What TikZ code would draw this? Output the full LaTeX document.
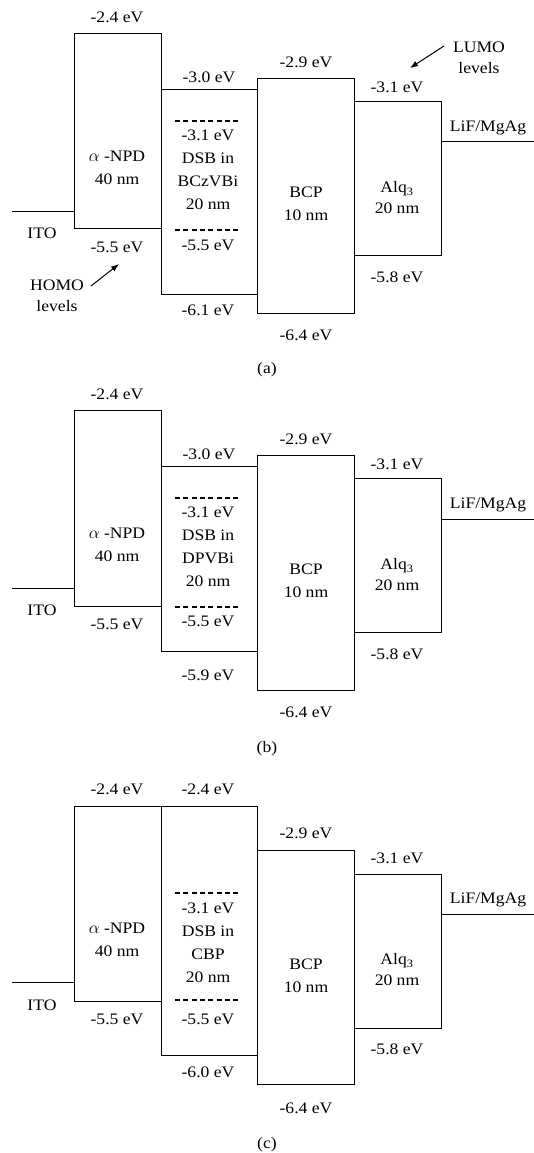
\documentclass[tikz,border=0pt]{standalone}
\usepackage{fontspec}
\setmainfont{Liberation Serif}[FakeStretch=1.1]
\usetikzlibrary{arrows.meta}

\begin{document}
\begin{tikzpicture}[x=1pt, y=-1pt,
    every node/.style={font=\fontsize{16}{23}\selectfont, inner sep=0pt},
    layer/.style={draw, line width=1pt, anchor=north west},
    lbl/.style={anchor=north, align=center},
    lead/.style={line width=1pt},
    dopant/.style={line width=1.3pt, dash pattern=on 5pt off 3.3pt},
    ptr/.style={-{Latex[length=8pt, width=6pt]}, line width=1pt}]
  \useasboundingbox (0,0) rectangle (534,1153);

  % (a) DSB in BCzVBi
  \begin{scope}[shift={(0,33)}]
    \node[layer, minimum width=87, minimum height=195] (npdA) at (74,0) {};
    \node[layer, minimum width=96, minimum height=205] (dsbA) at (161,56) {};
    \node[layer, minimum width=97, minimum height=235] (bcpA) at (257,45) {};
    \node[layer, minimum width=87, minimum height=154] (alqA) at (354,68) {};
    \coordinate (itoA) at (12,178);
    \coordinate (lifA) at (534,108);
    \draw[lead] (itoA) -- (itoA -| npdA.west);
    \draw[lead] (alqA.east |- lifA) -- (lifA);
    \draw[dopant] (175,88) -- (241,88);
    \draw[dopant] (175,197) -- (241,197);
    \node[lbl] (npdTopA) at (117,-21.5) {-2.4 eV};
    \node[lbl] (npdNameA) at (117,117.5) {$\alpha$ -NPD\\40 nm};
    \node[lbl] (npdBotA) at (117,208.5) {-5.5 eV};
    \node[lbl] (itoLblA) at (42,194.5) {ITO};
    \node[lbl] (dsbTopA) at (209,38.5) {-3.0 eV};
    \node[lbl] (dsbNameA) at (208,96.5) {-3.1 eV\\DSB in\\BCzVBi\\20 nm};
    \node[lbl] (dsbHomoA) at (208,206.5) {-5.5 eV};
    \node[lbl] (dsbBotA) at (208,271.5) {-6.1 eV};
    \node[lbl] (bcpTopA) at (306,23.5) {-2.9 eV};
    \node[lbl] (bcpNameA) at (306,153.5) {BCP\\10 nm};
    \node[lbl] (bcpBotA) at (306,296.5) {-6.4 eV};
    \node[lbl] (alqTopA) at (397,48.5) {-3.1 eV};
    \node[lbl, font=\fontsize{16}{21}\selectfont] (alqNameA) at (397,148.5) {Alq\textsubscript{3}\\20 nm};
    \node[lbl] (alqBotA) at (397,238.5) {-5.8 eV};
    \node[lbl] (lifLblA) at (488,87.5) {LiF/MgAg};
    \node[lbl, font=\fontsize{16}{21}\selectfont] (homoLbl) at (57,246.5) {HOMO\\levels};
    \node[lbl, font=\fontsize{16}{21}\selectfont] (lumoLbl) at (479,8.5) {LUMO\\levels};
    \coordinate (homoTail) at (91,253);
    \coordinate (homoTip) at (119,231);
    \coordinate (lumoTail) at (444,13);
    \coordinate (lumoTip) at (410,35);
    \draw[ptr] (homoTail) -- (homoTip);
    \draw[ptr] (lumoTail) -- (lumoTip);
    \node[lbl] (capA) at (267,329.5) {(a)};
  \end{scope}

  % (b) DSB in DPVBi
  \begin{scope}[shift={(0,410)}]
    \node[layer, minimum width=87, minimum height=196] (npdB) at (74,0) {};
    \node[layer, minimum width=96, minimum height=185] (dsbB) at (161,56) {};
    \node[layer, minimum width=97, minimum height=235] (bcpB) at (257,45) {};
    \node[layer, minimum width=87, minimum height=154] (alqB) at (354,68) {};
    \coordinate (itoB) at (12,178);
    \coordinate (lifB) at (534,109);
    \draw[lead] (itoB) -- (itoB -| npdB.west);
    \draw[lead] (alqB.east |- lifB) -- (lifB);
    \draw[dopant] (175,88) -- (241,88);
    \draw[dopant] (175,197) -- (241,197);
    \node[lbl] (npdTopB) at (117,-21.5) {-2.4 eV};
    \node[lbl] (npdNameB) at (117,117.5) {$\alpha$ -NPD\\40 nm};
    \node[lbl] (npdBotB) at (117,208.5) {-5.5 eV};
    \node[lbl] (itoLblB) at (42,194.5) {ITO};
    \node[lbl] (dsbTopB) at (209,38.5) {-3.0 eV};
    \node[lbl] (dsbNameB) at (208,96.5) {-3.1 eV\\DSB in\\DPVBi\\20 nm};
    \node[lbl] (dsbHomoB) at (208,205.5) {-5.5 eV};
    \node[lbl] (dsbBotB) at (208,259.5) {-5.9 eV};
    \node[lbl] (bcpTopB) at (306,23.5) {-2.9 eV};
    \node[lbl] (bcpNameB) at (306,153.5) {BCP\\10 nm};
    \node[lbl] (bcpBotB) at (306,296.5) {-6.4 eV};
    \node[lbl] (alqTopB) at (397,48.5) {-3.1 eV};
    \node[lbl, font=\fontsize{16}{21}\selectfont] (alqNameB) at (397,148.5) {Alq\textsubscript{3}\\20 nm};
    \node[lbl] (alqBotB) at (397,238.5) {-5.8 eV};
    \node[lbl] (lifLblB) at (488,87.5) {LiF/MgAg};
    \node[lbl] (capB) at (267,331.5) {(b)};
  \end{scope}

  % (c) DSB in CBP
  \begin{scope}[shift={(0,806)}]
    \node[layer, minimum width=87, minimum height=195] (npdC) at (74,0) {};
    \node[layer, minimum width=96, minimum height=249] (dsbC) at (161,0) {};
    \node[layer, minimum width=97, minimum height=234] (bcpC) at (257,44) {};
    \node[layer, minimum width=87, minimum height=154] (alqC) at (354,68) {};
    \coordinate (itoC) at (12,176);
    \coordinate (lifC) at (534,108);
    \draw[lead] (itoC) -- (itoC -| npdC.west);
    \draw[lead] (alqC.east |- lifC) -- (lifC);
    \draw[dopant] (175,87) -- (241,87);
    \draw[dopant] (175,194) -- (241,194);
    \node[lbl] (npdTopC) at (117,-22.5) {-2.4 eV};
    \node[lbl] (npdNameC) at (117,116.5) {$\alpha$ -NPD\\40 nm};
    \node[lbl] (npdBotC) at (117,207.5) {-5.5 eV};
    \node[lbl] (itoLblC) at (42,193.5) {ITO};
    \node[lbl] (dsbTopC) at (208,-22.5) {-2.4 eV};
    \node[lbl] (dsbNameC) at (208,96.5) {-3.1 eV\\DSB in\\CBP\\20 nm};
    \node[lbl] (dsbHomoC) at (208,207.5) {-5.5 eV};
    \node[lbl] (dsbBotC) at (208,260.5) {-6.0 eV};
    \node[lbl] (bcpTopC) at (306,21.5) {-2.9 eV};
    \node[lbl] (bcpNameC) at (306,152.5) {BCP\\10 nm};
    \node[lbl] (bcpBotC) at (306,296.5) {-6.4 eV};
    \node[lbl] (alqTopC) at (397,46.5) {-3.1 eV};
    \node[lbl, font=\fontsize{16}{21}\selectfont] (alqNameC) at (397,147.5) {Alq\textsubscript{3}\\20 nm};
    \node[lbl] (alqBotC) at (397,237.5) {-5.8 eV};
    \node[lbl] (lifLblC) at (488,86.5) {LiF/MgAg};
    \node[lbl] (capC) at (267,331.5) {(c)};
  \end{scope}
\end{tikzpicture}
\end{document}
